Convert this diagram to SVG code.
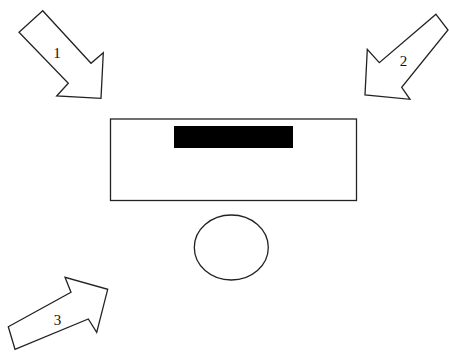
<svg xmlns="http://www.w3.org/2000/svg" width="449" height="353" viewBox="0 0 449 353">
<style>
.s{fill:#fff;stroke:#222;stroke-width:1.3;stroke-linejoin:miter}
.t{font-family:"Liberation Serif",serif;font-size:15px;fill:#111;text-anchor:middle;dominant-baseline:central}
</style>
<rect width="449" height="353" fill="#fff"/>
<g id="arrow1">
<polygon class="s" points="42.7,10.7 19,32.3 68.3,83.3 56.7,96 101,98.3 103.3,52.7 91,63.3"/>
<text class="t" x="57" y="53">1</text>
</g>
<g id="arrow2">
<polygon class="s" points="436,14.3 448,30 401.7,87.3 410,99.3 365,95 367.3,49.3 379.3,62.7"/>
<text class="t" x="403.5" y="61">2</text>
</g>
<g id="arrow3">
<polygon class="s" points="8.3,326.7 71,292.3 65,277.3 107.7,289.3 96.7,332.3 88.3,319 15,349.3"/>
<text class="t" x="57.5" y="319.5">3</text>
</g>
<g id="box">
<rect class="s" x="110.5" y="119" width="246" height="81.5"/>
<rect x="174" y="126" width="119" height="22" fill="#000"/>
</g>
<g id="circle">
<ellipse class="s" cx="231.3" cy="247.5" rx="37" ry="32.5"/>
</g>
<g id="connectors"></g>
</svg>
